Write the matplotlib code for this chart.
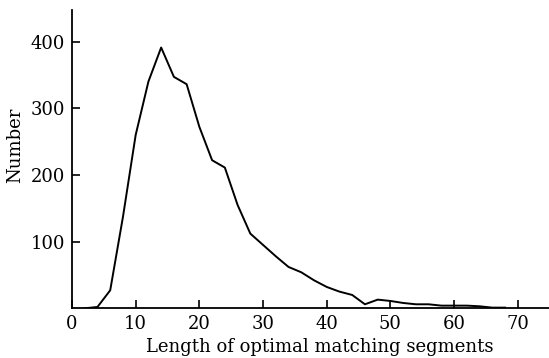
import matplotlib
matplotlib.use("Agg")
import matplotlib.pyplot as plt

length = [2, 4, 6, 8, 10, 12, 14, 16, 18, 20, 22, 24, 26, 28, 30, 32, 34, 36, 38, 40,
          42, 44, 46, 48, 50, 52, 54, 56, 58, 60, 62, 64, 66, 68]
number = [0, 2, 27, 137, 260, 340, 391, 347, 336, 272, 222, 211, 155, 112, 95, 78, 62, 54, 42, 32,
          25, 20, 6, 13, 11, 8, 6, 6, 4, 4, 4, 3, 1, 1]
xticks = [0, 10, 20, 30, 40, 50, 60, 70]
yticks = [100, 200, 300, 400]

plt.rcParams['font.family'] = ['DejaVu Serif']
fig = plt.figure(figsize=(5.49, 3.58), dpi=100)
ax = fig.add_axes([72/549, 1-308.3/358, 1-72/549, (308.3-9.5)/358])
ax.plot(length, number, color='black', lw=1.4)
ax.set_xlim(0, 74.9)
ax.set_ylim(0, 448)
ax.set_xticks(xticks)
ax.set_yticks(yticks)
for s in ['top', 'right']:
    ax.spines[s].set_visible(False)
for s in ['left', 'bottom']:
    ax.spines[s].set_linewidth(1.3)
ax.tick_params(direction='in', length=6, width=1.2, labelsize=13)
ax.tick_params(axis='x', pad=5)
ax.tick_params(axis='y', pad=5)
ax.set_xlabel('Length of optimal matching segments', fontsize=13)
ax.set_ylabel('Number', fontsize=13)
ax.xaxis.set_label_coords((320-72)/477, -(347-308.3)/298.8, transform=ax.transAxes)
ax.yaxis.set_label_coords(-(72-15)/477, (308.3-145.5)/298.8, transform=ax.transAxes)
ax.xaxis.label.set_va('center')
ax.yaxis.label.set_va('center')
fig.savefig('out.png', dpi=100)
